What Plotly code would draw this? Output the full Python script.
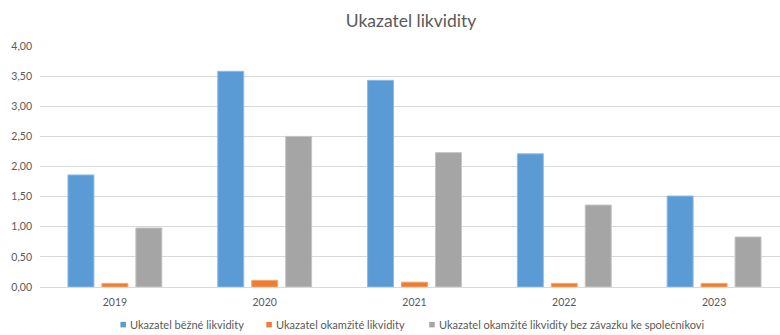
import plotly.graph_objects as go

# Liquidity ratios by year
years = ["2019", "2020", "2021", "2022", "2023"]
bezna = [1.86, 3.58, 3.43, 2.21, 1.51]
okamzita = [0.06, 0.11, 0.08, 0.06, 0.06]
okamzita_bez_zavazku = [0.98, 2.50, 2.23, 1.36, 0.83]

series_names = [
    "Ukazatel běžné likvidity",
    "Ukazatel okamžité likvidity",
    "Ukazatel okamžité likvidity bez závazku ke společníkovi",
]
colors = ["#5B9BD5", "#ED7D31", "#A5A5A5"]
edge_colors = ["#8DBBE6", "#F4A673", "#C4C4C4"]
y_ticks = [0, 0.5, 1.0, 1.5, 2.0, 2.5, 3.0, 3.5, 4.0]

FONT = "Lato, 'Open Sans', sans-serif"
TEXT = "#595959"

fig = go.Figure()
for name, vals, col, edge in zip(series_names, [bezna, okamzita, okamzita_bez_zavazku], colors, edge_colors):
    fig.add_trace(go.Bar(
        x=years, y=vals, name=name,
        marker=dict(color=col, line=dict(color=edge, width=1)),
        showlegend=False,
    ))

W, H = 780, 335
left, top, bottom = 39.5, 46, 47.7
plot_w = W - left
plot_h = H - top - bottom


def px_x(px):
    return (px - left) / plot_w


def px_y(py):
    return (H - bottom - py) / plot_h


# Compact legend row under the axis: small square swatch followed by its label
legend_x = [120, 266, 429]
legend_y = 325
shapes, annotations = [], []
for name, col, x0 in zip(series_names, colors, legend_x):
    shapes.append(dict(
        type="rect", xref="paper", yref="paper",
        x0=px_x(x0), x1=px_x(x0 + 5.5),
        y0=px_y(legend_y + 2.75), y1=px_y(legend_y - 2.75),
        fillcolor=col, line=dict(width=0),
    ))
    annotations.append(dict(
        text=name, xref="paper", yref="paper",
        x=px_x(x0 + 8), y=px_y(legend_y),
        xanchor="left", yanchor="middle", showarrow=False,
        font=dict(family=FONT, size=11, color=TEXT),
    ))

fig.update_layout(
    width=W, height=H,
    margin=dict(l=left, r=0, t=top, b=bottom, pad=0, autoexpand=False),
    paper_bgcolor="white", plot_bgcolor="white",
    separators=", ",
    barmode="group", bargap=0.32, bargroupgap=0.235,
    font=dict(family=FONT, color=TEXT, size=10.5),
    title=dict(
        text="Ukazatel likvidity",
        font=dict(family=FONT, size=17.5, color=TEXT),
        x=411 / W, xanchor="center", xref="container",
        y=1 - 21 / H, yanchor="middle", yref="container",
    ),
    xaxis=dict(
        type="category", range=[-0.5, 4.44],
        showgrid=False, showline=False, ticks="",
        tickfont=dict(size=10.5, color=TEXT),
        ticklabelstandoff=7,
    ),
    yaxis=dict(
        range=[0, 4.0], tickvals=y_ticks, tickformat=".2f",
        showgrid=True, gridcolor="#D9D9D9", gridwidth=1.3,
        zeroline=True, zerolinecolor="#D9D9D9", zerolinewidth=1.3,
        showline=False, ticks="",
        tickfont=dict(size=10.5, color=TEXT),
        ticklabelstandoff=7,
    ),
    shapes=shapes,
    annotations=annotations,
    showlegend=False,
)

fig.write_html("out.html")
